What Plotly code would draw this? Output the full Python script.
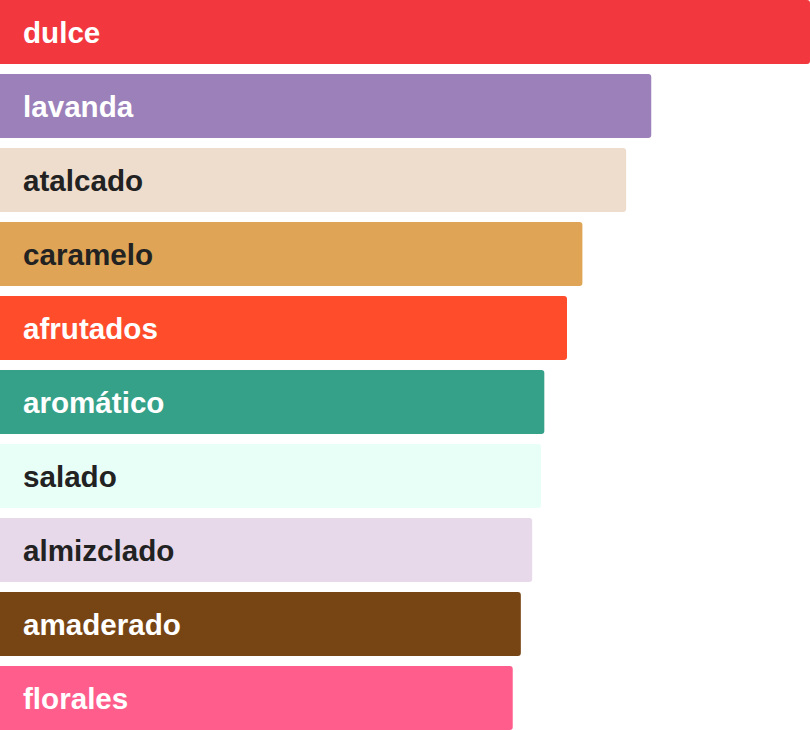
import plotly.graph_objects as go

categories = ["dulce", "lavanda", "atalcado", "caramelo", "afrutados",
              "aromático", "salado", "almizclado", "amaderado", "florales"]
values = [100, 80.4, 77.3, 71.9, 70.0, 67.2, 66.8, 65.7, 64.3, 63.3]
bar_colors = ["#F2373F", "#9B80BA", "#EEDDCD", "#DFA455", "#FF4D2B",
              "#36A189", "#E8FFF8", "#E7D9EA", "#774514", "#FF5E8C"]
label_colors = ["#FFFFFF", "#FFFFFF", "#222222", "#222222", "#FFFFFF",
                "#FFFFFF", "#222222", "#222222", "#FFFFFF", "#FFFFFF"]

bargap = 10 / 74
half_bar = (1 - bargap) / 2

fig = go.Figure(
    go.Bar(
        x=values,
        y=categories,
        orientation="h",
        marker=dict(color=bar_colors, line=dict(width=0)),
        hoverinfo="skip",
    )
)

for cat, col in zip(categories, label_colors):
    fig.add_annotation(
        x=0, y=cat, text="<b>%s</b>" % cat, showarrow=False,
        xanchor="left", xshift=21,
        font=dict(family="Liberation Sans, Arial", size=29.6, color=col),
    )

fig.update_layout(
    width=810,
    height=730,
    margin=dict(l=0, r=0, t=0, b=0),
    paper_bgcolor="white",
    plot_bgcolor="white",
    bargap=bargap,
    barcornerradius=3,
    showlegend=False,
    xaxis=dict(range=[0, max(values)], visible=False, fixedrange=True),
    # categories run top to bottom, bars touch the top and bottom edges
    yaxis=dict(range=[len(categories) - 1 + half_bar, -half_bar],
               visible=False, fixedrange=True),
)

fig.write_html(
    "out.html",
    config={"displayModeBar": False},
    post_script="document.body.style.margin='0';document.body.style.overflow='hidden';",
)
